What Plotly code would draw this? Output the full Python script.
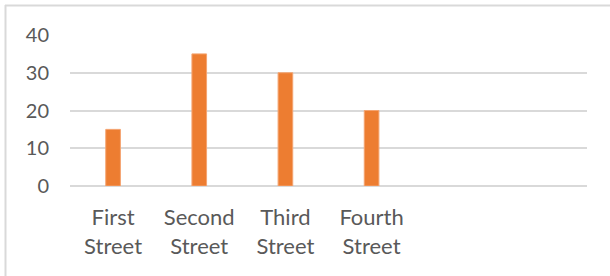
import plotly.graph_objects as go

categories = ["First<br>Street", "Second<br>Street", "Third<br>Street", "Fourth<br>Street", "", " "]
values = [15, 35, 30, 20, None, None]
y_ticks = [0, 10, 20, 30, 40]

W, H = 610, 276
ml, mr, mt, mb = 70, 23, 35, 90
pw, ph = W - ml - mr, H - mt - mb

def px_x(p):
    return (p - ml) / pw

def px_y(p):
    return (H - mb - p) / ph

fig = go.Figure(go.Bar(
    x=categories, y=values,
    marker=dict(color="#ED7D31", line=dict(color="#F4A471", width=1)),
    width=0.17,
))

fig.update_layout(
    width=W, height=H,
    margin=dict(l=ml, r=mr, t=mt, b=mb),
    paper_bgcolor="white", plot_bgcolor="white",
    font=dict(family="Lato, Open Sans, sans-serif", color="#595959", size=20),
    showlegend=False,
    shapes=[
        dict(type="line", xref="paper", yref="paper", x0=px_x(5), x1=px_x(610), y0=px_y(5.5), y1=px_y(5.5),
             line=dict(color="#D9D9D9", width=2)),
        dict(type="line", xref="paper", yref="paper", x0=px_x(5.5), x1=px_x(5.5), y0=px_y(5), y1=px_y(276),
             line=dict(color="#D9D9D9", width=2)),
    ],
)
fig.update_xaxes(
    type="category", categoryorder="array", categoryarray=categories,
    range=[-0.5, 5.5], showgrid=False, showline=False, ticks="",
    ticklabelstandoff=16, tickfont=dict(size=22, color="#595959"),
)
fig.update_yaxes(
    range=[0, 40], tickvals=y_ticks, showgrid=True, gridcolor="#D9D9D9", gridwidth=2,
    zeroline=True, zerolinecolor="#D9D9D9", zerolinewidth=2, showline=False, ticks="",
    ticklabelstandoff=20, tickfont=dict(size=20, color="#595959"),
)

fig.write_html("out.html", config={"displayModeBar": False},
               post_script="document.body.style.margin='0';")
